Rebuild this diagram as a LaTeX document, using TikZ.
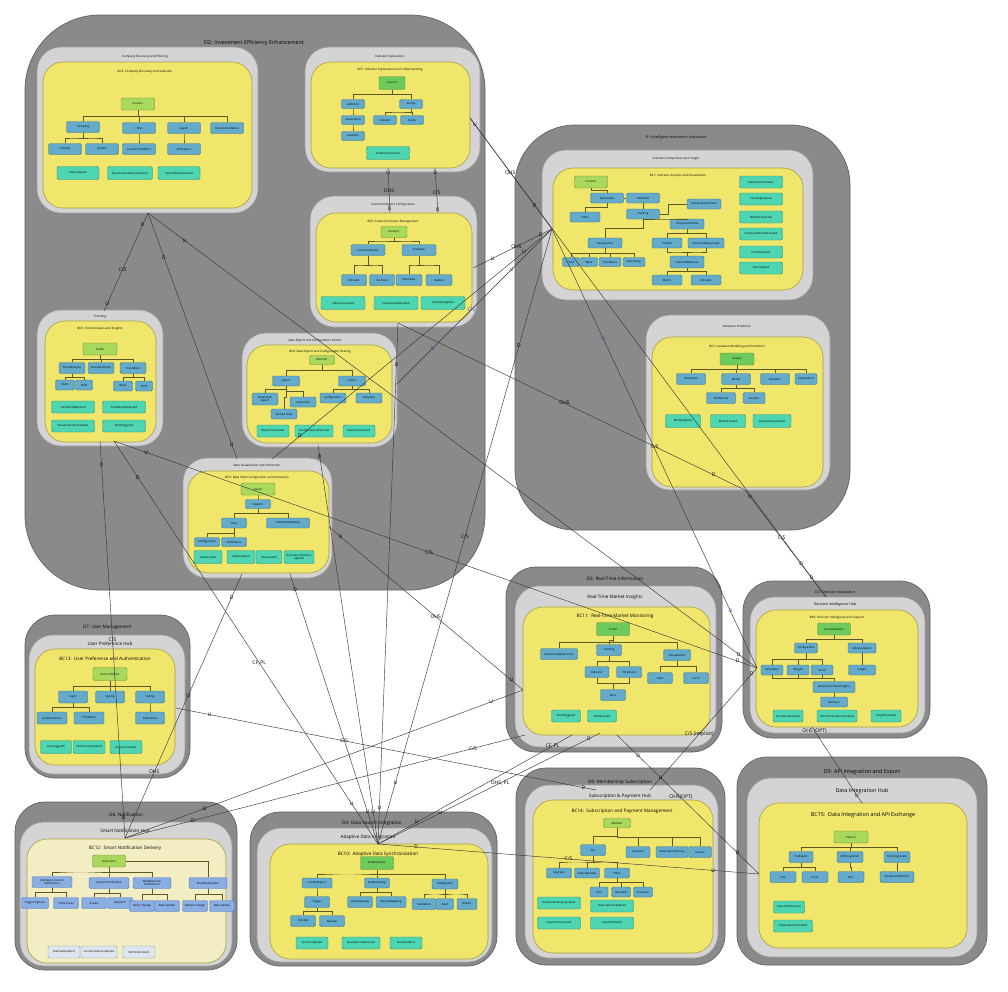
\documentclass[tikz,border=0pt]{standalone}
\usepackage{fontspec}
\setmainfont{Open Sans}
\usetikzlibrary{calc}

\definecolor{domF}{HTML}{8A8A8A}
\definecolor{domB}{HTML}{626262}
\definecolor{subF}{HTML}{D4D4D4}
\definecolor{subB}{HTML}{9C9C9C}
\definecolor{bcF}{HTML}{F0E66C}
\definecolor{bcB}{HTML}{A99F40}
\definecolor{crmF}{HTML}{F3EDC4}
\definecolor{actF}{HTML}{A8D85C}
\definecolor{actG}{HTML}{6CCB5A}
\definecolor{actB}{HTML}{6C8830}
\definecolor{entF}{HTML}{63AACB}
\definecolor{entB}{HTML}{3F6F86}
\definecolor{evtF}{HTML}{4ED6B2}
\definecolor{evtB}{HTML}{2F8A6F}
\definecolor{ntfF}{HTML}{88AEE4}
\definecolor{ntfB}{HTML}{4E72B0}
\definecolor{nevF}{HTML}{DDE6EE}
\definecolor{nevB}{HTML}{8C9AA6}
\definecolor{treeC}{HTML}{5E581E}
\definecolor{relC}{HTML}{383838}
\definecolor{relBlue}{HTML}{3A3AC4}

\tikzset{
  dom/.style={draw=domB, fill=domF, line width=0.7pt, rounded corners=30pt},
  sub/.style={draw=subB, fill=subF, line width=0.6pt, rounded corners=24pt},
  bc/.style={draw=bcB, fill=bcF, line width=0.6pt, rounded corners=20pt},
  box/.style 2 args={rounded corners=1.5pt, line width=0.45pt, minimum width=#1, minimum height=#2,
    inner sep=0.4pt, align=center, font=\fontsize{2.8}{3.1}\selectfont},
  act/.style 2 args={box={#1}{#2}, draw=actB, fill=actF},
  actg/.style 2 args={box={#1}{#2}, draw=actB, fill=actG},
  ent/.style 2 args={box={#1}{#2}, draw=entB, fill=entF},
  evt/.style 2 args={box={#1}{#2}, draw=evtB, fill=evtF},
  ntf/.style 2 args={box={#1}{#2}, draw=ntfB, fill=ntfF},
  nev/.style 2 args={box={#1}{#2}, draw=nevB, fill=nevF},
  tree/.style={draw=treeC, line width=0.45pt},
  rel/.style={draw=relC, line width=0.45pt},
  lbl/.style={font=\fontsize{5}{5}\selectfont, inner sep=0.3pt, text=black},
  lblb/.style={lbl, text=relBlue},
  tbig/.style={font=\fontsize{5.4}{6}\selectfont, inner sep=0pt},
  tmid/.style={font=\fontsize{4.6}{5}\selectfont, inner sep=0pt},
  tsml/.style={font=\fontsize{3.6}{4}\selectfont, inner sep=0pt},
  ttny/.style={font=\fontsize{3}{3.4}\selectfont, inner sep=0pt},
}

\begin{document}
\begin{tikzpicture}[x=1pt,y=1pt,yscale=-1]
\useasboundingbox (0,0) rectangle (1008,991);
\fill[white] (0,0) rectangle (1008,991);

%% ---------------- D2: Investment Efficiency Enhancement
\draw[dom, rounded corners=75pt] (25,15) rectangle (485,590);
\node[tbig] (tD2) at (254,43) {D2: Investment Efficiency Enhancement};

% Company Discovery and Filtering
\draw[sub] (37,47) rectangle (258,213);
\draw[bc] (43,62) rectangle (252,208);
\node[ttny] (tCD) at (145,57) {Company Discovery and Filtering};
\node[ttny] (tBC4) at (145,72) {BC4: Company Discovery and Selection};
\node[act={33}{12}] (b4inv) at (138,104) {Investor};
\node[ent={33}{11}] (b4com) at (83,127) {Company};
\node[ent={33}{11}] (b4fil) at (139,128) {Filter};
\node[ent={33}{11}] (b4sea) at (184,128) {Search};
\node[ent={33}{11}] (b4rec) at (227,128) {Recommendation};
\node[ent={33}{11}] (b4ind) at (65,149) {Industry};
\node[ent={33}{11}] (b4sym) at (102,149) {Symbol};
\node[ent={33}{11}] (b4cus) at (139,149) {Custom Condition};
\node[ent={33}{11}] (b4pre) at (184,149) {Preference};
\node[evt={42}{13}] (b4e1) at (78,173) {FiltersApplied};
\node[evt={45}{13}] (b4e2) at (130,173) {RecommendationsSelected};
\node[evt={42}{13}] (b4e3) at (179,173) {SearchResultSelected};

% Indicator Explanation
\draw[sub] (305,47) rectangle (480,172);
\draw[bc] (311,62) rectangle (470,168);
\node[ttny] (tIE) at (390,57) {Indicator Explanation};
\node[ttny] (tBC7) at (390,70) {BC7: Indicator Explanation and Understanding};
\node[actg={26}{13}] (b7lea) at (392,83) {Learner};
\node[ent={23}{9}] (b7def) at (353,104) {definition};
\node[ent={23}{9}] (b7too) at (411,104) {tooltip};
\node[ent={23}{9}] (b7exp) at (353,120) {explanation};
\node[ent={23}{9}] (b7ind) at (385,120) {indicator};
\node[ent={23}{9}] (b7met) at (412,120) {metric};
\node[ent={23}{9}] (b7exa) at (353,136) {example};
\node[evt={43}{13}] (b7e1) at (388,153) {DefinitionCreated};

% Custom Indicator Configuration
\draw[sub] (310,196) rectangle (477,327);
\draw[bc] (316,213) rectangle (472,322);
\node[ttny] (tCI) at (393,205) {Custom Indicator Configuration};
\node[ttny] (tBC5) at (393,222) {BC5: Custom Indicator Management};
\node[act={26}{11}] (b5inv) at (394,232) {Investor};
\node[ent={34}{11}] (b5ci) at (368,250) {CustomIndicator};
\node[ent={34}{11}] (b5tp) at (419,250) {Template};
\node[ent={25}{11}] (b5in) at (354,280) {Indicator};
\node[ent={25}{11}] (b5fo) at (382,280) {Formula};
\node[ent={26}{11}] (b5pa) at (409,280) {Parameter};
\node[ent={26}{11}] (b5re) at (439,280) {Reload};
\node[evt={44}{13}] (b5e1) at (343,303) {IndicatorCreated};
\node[evt={44}{13}] (b5e2) at (396,303) {ParametersReloaded};
\node[evt={44}{13}] (b5e3) at (443,303) {TemplateApplied};

% Trending
\draw[sub] (37,310) rectangle (163,446);
\draw[bc] (45,321) rectangle (156,442);
\node[ttny] (tTR) at (100,317) {Trending};
\node[ttny] (tBC6) at (100,329) {BC6: Trend Analysis and Insights};
\node[act={34}{12}] (b6tr) at (100,349) {Trader};
\node[ent={26}{11}] (b6ta) at (72,368) {TrendAnalysis};
\node[ent={26}{11}] (b6vs) at (101,368) {VisualSummary};
\node[ent={26}{11}] (b6al) at (133,368) {TrendAlert};
\node[ent={19}{10}] (b6b1) at (65,385) {Burst};
\node[ent={17}{10}] (b6s1) at (84,385) {Shift};
\node[ent={19}{10}] (b6b2) at (123,386) {Burst};
\node[ent={17}{10}] (b6s2) at (144,386) {Shift};
\node[evt={43}{12}] (b6e1) at (73,407) {TrendShiftDetected};
\node[evt={43}{12}] (b6e2) at (124,407) {TrendBurstDetected};
\node[evt={43}{12}] (b6e3) at (73,426) {VisualSummaryCreated};
\node[evt={43}{12}] (b6e4) at (124,426) {AlertTriggered};

% Data Export and Configuration Import
\draw[sub] (242,333) rectangle (397,447);
\draw[bc] (247,345) rectangle (392,443);
\node[ttny] (tDE) at (315,341) {Data Export and Configuration Import};
\node[ttny] (tBC8) at (320,352) {BC8: Data Export and Configuration Sharing};
\node[act={25}{9}] (b8ex) at (322,360) {Exporter};
\node[ent={27}{10}] (b8exp) at (286,381) {export};
\node[ent={27}{10}] (b8imp) at (352,381) {import};
\node[ent={26}{12}] (b8dl) at (265,399) {Download\\export};
\node[ent={26}{10}] (b8sh) at (303,402) {Share Link};
\node[ent={26}{10}] (b8cf) at (333,398) {configuration};
\node[ent={26}{10}] (b8tp) at (369,398) {template};
\node[ent={26}{10}] (b8em) at (284,414) {Embed code};
\node[evt={32}{12}] (b8e1) at (273,431) {ReportGenerated};
\node[evt={38}{12}] (b8e2) at (314,431) {ConfigurationImported};
\node[evt={32}{12}] (b8e3) at (359,431) {ExportCompleted};

% Data Visualization and Interaction
\draw[sub] (183,458) rectangle (332,578);
\draw[bc] (188,471) rectangle (329,573);
\node[ttny] (tDV) at (257,465) {Data Visualization and Interaction};
\node[ttny] (tBC3) at (257,478) {BC3: Data View Configuration and Interaction};
\node[act={34}{12}] (b3vw) at (258,489) {Viewer};
\node[ent={25}{9}] (b3vc) at (258,504) {ViewCtrl};
\node[ent={25}{10}] (b3v) at (234,523) {View};
\node[ent={43}{10}] (b3pd) at (288,523) {PredefinedDisplay};
\node[ent={25}{9}] (b3cf) at (207,542) {Configuration};
\node[ent={25}{9}] (b3pf) at (234,542) {Preference};
\node[evt={28}{13}] (b3e1) at (208,557) {ViewCreated};
\node[evt={28}{13}] (b3e2) at (241,557) {ViewUpdated};
\node[evt={26}{13}] (b3e3) at (269,557) {ViewLoaded};
\node[evt={30}{13}] (b3e4) at (299,557) {Recommendations\\Applied};

%% ---------------- D1 Intelligent Investment Assistance
\draw[dom, rounded corners=60pt] (515,125) rectangle (850,530);
\node[tsml] (tD1) at (676,138) {D1 Intelligent Investment Assistance};

% Indicator Comparison and Insight
\draw[sub] (542,150) rectangle (813,300);
\draw[bc] (553,168) rectangle (803,290);
\node[ttny] (tICI) at (676,159) {Indicator Comparison and Insight};
\node[ttny] (tBC1) at (678,176) {BC1: Indicator Analysis and Visualization};
\node[act={33}{12}] (b1inv) at (591,182) {Investor};
\node[ent={33}{10}] (b1db) at (607,198) {Dashboard};
\node[ent={33}{10}] (b1wl) at (643,198) {Watchlist};
\node[ent={30}{10}] (b1fi) at (585,217) {Filter};
\node[ent={33}{10}] (b1tr) at (643,214) {Tracking};
\node[ent={34}{10}] (b1ib) at (704,204) {IndustryBenchmark};
\node[ent={34}{10}] (b1cp) at (687,224) {CompositeProfile};
\node[ent={34}{10}] (b1vi) at (605,243) {Visualization};
\node[ent={30}{10}] (b1pr) at (667,243) {Profiles};
\node[ent={36}{10}] (b1fs) at (706,243) {FinancialMeasureSet};
\node[ent={17}{9}] (b1ch) at (571,262) {Chart};
\node[ent={17}{9}] (b1tb) at (589,262) {Table};
\node[ent={22}{9}] (b1td) at (610,262) {TrendData};
\node[ent={22}{9}] (b1pg) at (634,262) {PeerGroup};
\node[ent={34}{12}] (b1fm) at (687,262) {FinancialMeasure};
\node[ent={30}{10}] (b1mt) at (667,280) {Metric};
\node[ent={30}{10}] (b1in) at (706,280) {Indicator};
\node[evt={43}{12}] (b1e1) at (761,182) {DashboardCreated};
\node[evt={43}{12}] (b1e2) at (761,199) {TrackingCreated};
\node[evt={43}{12}] (b1e3) at (761,217) {WatchlistCreated};
\node[evt={43}{12}] (b1e4) at (761,234) {CompositeProfileCreated};
\node[evt={43}{12}] (b1e5) at (761,252) {ProfileCreated};
\node[evt={43}{12}] (b1e6) at (761,268) {FilterApplied};

% Valuation Prediction
\draw[sub] (646,315) rectangle (830,490);
\draw[bc] (652,337) rectangle (823,487);
\node[ttny] (tVP) at (737,326) {Valuation Prediction};
\node[ttny] (tBC2) at (737,347) {BC2: Valuation Modeling and Prediction};
\node[actg={34}{12}] (b2an) at (737,359) {Analyst};
\node[ent={29}{11}] (b2pa) at (691,379) {Parameter};
\node[ent={29}{11}] (b2mo) at (736,379) {Model};
\node[ent={29}{11}] (b2va) at (775,379) {Valuation};
\node[ent={22}{11}] (b2ex) at (806,379) {Explanation};
\node[ent={29}{11}] (b2pd) at (721,398) {Predefined};
\node[ent={22}{11}] (b2cu) at (754,398) {Custom};
\node[evt={35}{13}] (b2e1) at (683,421) {ModelApplied};
\node[evt={35}{13}] (b2e2) at (728,421) {ModelCreated};
\node[evt={38}{13}] (b2e3) at (772,421) {ValuationGenerated};

%% ---------------- D7: User Management
\draw[dom] (25,615) rectangle (190,778);
\draw[sub] (29,635) rectangle (185,774);
\draw[bc] (35,649) rectangle (175,765);
\node[tmid] (tD7) at (107,627) {D7: User Management};
\node[tmid] (tUPH) at (110,644) {User Preference Hub};
\node[tmid] (tBC13) at (105,659) {BC13:\, User Preference and Authentication};
\node[act={34}{13}] (b13ah) at (110,674) {AccountHolder};
\node[ent={29}{12}] (b13lg) at (73,697) {Login};
\node[ent={29}{12}] (b13su) at (110,697) {SignUp};
\node[ent={29}{12}] (b13st) at (150,697) {Setting};
\node[ent={30}{12}] (b13au) at (52,718) {Authentication};
\node[ent={30}{12}] (b13tp) at (89,718) {ThirdParty};
\node[ent={29}{12}] (b13pf) at (150,718) {Preference};
\node[evt={31}{13}] (b13e1) at (56,747) {UserLoggedIn};
\node[evt={32}{13}] (b13e2) at (89,747) {PreferenceUpdated};
\node[evt={32}{13}] (b13e3) at (126,747) {AccountCreated};

%% ---------------- D6: Notification
\draw[dom] (15,802) rectangle (237,970);
\draw[sub] (20,822) rectangle (232,966);
\draw[draw=bcB, fill=crmF, line width=0.6pt, rounded corners=20pt] (27,839) rectangle (226,963);
\node[tmid] (tD6) at (126,815) {D6: Notification};
\node[tmid] (tSNH) at (125,831) {Smart Notification Hub};
\node[tmid] (tBC12) at (125,848) {BC12:\, Smart Notification Delivery};
\node[act={33}{12}] (b12sb) at (109,861) {Subscriber};
\node[ntf={40}{11}] (b12cc) at (52,882) {Configure Custom\\Notification};
\node[ntf={40}{11}] (b12sn) at (109,883) {System Notification};
\node[ntf={38}{11}] (b12wp) at (152,883) {WebApp Push\\Notification};
\node[ntf={38}{11}] (b12em) at (208,883) {EmailNotification};
\node[ntf={27}{11}] (b12to) at (35,903) {Trigger Options};
\node[ntf={25}{11}] (b12pr) at (66,903) {Preferences};
\node[ntf={25}{11}] (b12cr) at (94,903) {Create};
\node[ntf={25}{11}] (b12di) at (120,903) {Dispatch};
\node[ntf={25}{11}] (b12vc) at (142,906) {Value Change};
\node[ntf={25}{11}] (b12du) at (167,906) {Data Update};
\node[ntf={25}{11}] (b12mc) at (195,906) {Market Change};
\node[ntf={25}{11}] (b12dv) at (222,906) {Data Update};
\node[nev={32}{12}] (b12e1) at (64,952) {MethodUpdated};
\node[nev={36}{12}] (b12e2) at (99,952) {CustomizationUpdated};
\node[nev={32}{12}] (b12e3) at (139,952) {NotificationSent};

%% ---------------- D4: Data Source Integration
\draw[dom] (250,812) rectangle (497,966);
\draw[sub] (257,828) rectangle (492,962);
\draw[bc] (270,844) rectangle (488,959);
\node[tmid] (tD4) at (372,823) {D4: Data Source Integration};
\node[tmid] (tADI) at (368,837) {Adaptive Data Integration};
\node[tmid] (tBC10) at (378,854) {BC10:\, Adaptive Data Synchronization};
\node[actg={33}{13}] (b10de) at (377,863) {DataEngineer};
\node[ent={30}{10}] (b10ce) at (317,883) {CreateEngine};
\node[ent={25}{10}] (b10dc) at (377,883) {DataCleaning};
\node[ent={26}{10}] (b10dq) at (445,884) {DataQuality};
\node[ent={25}{11}] (b10tg) at (317,902) {Trigger};
\node[ent={25}{11}] (b10am) at (360,902) {AutoMapping};
\node[ent={30}{11}] (b10mm) at (391,902) {ManualMapping};
\node[ent={24}{11}] (b10va) at (424,904) {Validation};
\node[ent={17}{11}] (b10al) at (445,904) {Alert};
\node[ent={20}{11}] (b10rp) at (467,904) {Report};
\node[ent={25}{11}] (b10cj) at (303,921) {CronJob};
\node[ent={25}{11}] (b10mn) at (332,921) {Manual};
\node[evt={32}{12}] (b10e1) at (312,943) {SyncCompleted};
\node[evt={38}{12}] (b10e2) at (361,943) {QualityIssueDetected};
\node[evt={32}{12}] (b10e3) at (406,943) {DataUpdated};

%% ---------------- D5: Real-Time Information
\draw[dom] (506,567) rectangle (722,752);
\draw[sub] (515,586) rectangle (716,747);
\draw[bc] (523,607) rectangle (710,735);
\node[tmid] (tD5) at (615,579) {D5: Real-Time Information};
\node[tmid] (tRMI) at (615,597) {Real-Time Market Insights};
\node[tmid] (tBC11) at (615,616) {BC11:\, Real-Time Market Monitoring};
\node[actg={33}{13}] (b11tr) at (613,629) {Trader};
\node[ent={37}{11}] (b11rp) at (559,654) {Real-time Market Price};
\node[ent={25}{11}] (b11tk) at (609,650) {Tracking};
\node[ent={27}{11}] (b11vi) at (677,655) {Visualization};
\node[ent={24}{11}] (b11in) at (597,672) {Indicator};
\node[ent={25}{11}] (b11th) at (629,672) {Threshold};
\node[ent={25}{11}] (b11ch) at (660,678) {chart};
\node[ent={25}{11}] (b11td) at (696,678) {trend};
\node[ent={25}{11}] (b11al) at (613,695) {Alert};
\node[evt={29}{12}] (b11e1) at (566,716) {AlertTriggered};
\node[evt={29}{12}] (b11e2) at (602,716) {AlertCreated};

%% ---------------- D3: Decision Assistance
\draw[dom] (743,581) rectangle (930,738);
\draw[sub] (750,597) rectangle (925,733);
\draw[bc] (756,610) rectangle (918,727);
\node[tsml] (tD3) at (835,592) {D3: Decision Assistance};
\node[tsml] (tDIH) at (835,605) {Decision Intelligence Hub};
\node[ttny] (tBC9) at (837,618) {BC9: Decision Intelligence and Support};
\node[actg={33}{12}] (b9dm) at (834,629) {DecisionMaker};
\node[ent={23}{10}] (b9cf) at (806,648) {Configurable};
\node[ent={28}{10}] (b9ai) at (862,648) {AIConsultation};
\node[ent={22}{10}] (b9pa) at (772,670) {Parameter};
\node[ent={22}{10}] (b9we) at (798,670) {Weight};
\node[ent={22}{10}] (b9sc) at (822,670) {Score};
\node[ent={27}{10}] (b9in) at (862,670) {Insight};
\node[ent={42}{11}] (b9re) at (834,687) {RecommendationEngine};
\node[ent={27}{10}] (b9de) at (834,702) {Decision};
\node[evt={30}{12}] (b9e1) at (788,716) {ScoreRecalculated};
\node[evt={40}{12}] (b9e2) at (837,716) {RecommendationCreated};
\node[evt={30}{12}] (b9e3) at (886,716) {InsightProvided};

%% ---------------- D8: Membership Subscription
\draw[dom] (516,768) rectangle (725,965);
\draw[sub] (525,785) rectangle (718,958);
\draw[bc] (533,800) rectangle (713,953);
\node[tmid] (tD8) at (620,782) {D8: Membership Subscription};
\node[tmid] (tSPH) at (620,796) {Subscription \& Payment Hub};
\node[tmid] (tBC14) at (622,811) {BC14:\, Subscription and Payment Management};
\node[act={27}{9}] (b14mb) at (617,823) {Member};
\node[ent={25}{11}] (b14ti) at (593,850) {Tier};
\node[ent={24}{11}] (b14pa) at (638,852) {Payment};
\node[ent={32}{11}] (b14sh) at (672,852) {SubscriptionHistory};
\node[ent={23}{11}] (b14in) at (700,852) {Invoice};
\node[ent={25}{10}] (b14up) at (559,873) {Upgrade};
\node[ent={25}{10}] (b14ar) at (587,873) {Auto-Renewal};
\node[ent={25}{10}] (b14pl) at (617,873) {Plans};
\node[ent={18}{10}] (b14fr) at (599,892) {Free};
\node[ent={19}{10}] (b14st) at (621,892) {Standard};
\node[ent={19}{10}] (b14pm) at (643,892) {Premium};
\node[evt={43}{12}] (b14e1) at (559,903) {RenewalSettingsUpdated};
\node[evt={43}{12}] (b14e2) at (612,906) {SubscriptionUpdated};
\node[evt={43}{12}] (b14e3) at (559,923) {PaymentProcessed};
\node[evt={43}{12}] (b14e4) at (612,923) {PaymentFailed};

%% ---------------- D9: API Integration and Export
\draw[dom] (737,757) rectangle (987,965);
\draw[sub] (747,778) rectangle (977,957);
\draw[bc] (759,803) rectangle (967,948);
\node[tbig] (tD9) at (862,772) {D9: API Integration and Export};
\node[tbig] (tDIHb) at (862,791) {Data Integration Hub};
\node[tbig] (tBC15) at (863,815) {BC15:\, Data Integration and API Exchange};
\node[act={34}{12}] (b15pt) at (851,837) {Partner};
\node[ent={24}{11}] (b15fe) at (801,857) {FileExport};
\node[ent={26}{11}] (b15ai) at (850,857) {APIIntegration};
\node[ent={26}{11}] (b15ti) at (897,857) {ToolIntegration};
\node[ent={26}{11}] (b15cs) at (783,877) {CSV};
\node[ent={26}{11}] (b15ex) at (815,877) {Excel};
\node[ent={26}{11}] (b15dc) at (851,877) {Doc};
\node[ent={34}{11}] (b15ap) at (897,877) {AnalyticsPlatforms};
\node[evt={31}{12}] (b15e1) at (789,907) {ExportFileCreated};
\node[evt={39}{12}] (b15e2) at (793,926) {IntegrationCompleted};

%% ---------------- tree connectors inside the contexts
\foreach \p/\c in {b4inv/b4com, b4inv/b4fil, b4inv/b4sea, b4inv/b4rec, b4com/b4ind, b4com/b4sym,
    b4fil/b4cus, b4sea/b4pre,
    b7lea/b7def, b7lea/b7too, b7def/b7exp, b7exp/b7exa, b7too/b7ind, b7too/b7met,
    b5inv/b5ci, b5inv/b5tp, b5ci/b5in, b5ci/b5fo, b5tp/b5pa, b5tp/b5re,
    b6tr/b6ta, b6tr/b6vs, b6tr/b6al, b6ta/b6b1, b6ta/b6s1, b6al/b6b2, b6al/b6s2,
    b8ex/b8exp, b8ex/b8imp, b8exp/b8dl, b8exp/b8sh, b8exp/b8em, b8imp/b8cf, b8imp/b8tp,
    b3vw/b3vc, b3vc/b3v, b3vc/b3pd, b3v/b3cf, b3v/b3pf,
    b1inv/b1db, b1db/b1fi, b1wl/b1tr, b1tr/b1vi, b1tr/b1cp, b1cp/b1pr, b1cp/b1fs, b1pr/b1fm,
    b1fs/b1fm, b1fm/b1mt, b1fm/b1in, b1vi/b1ch, b1vi/b1tb, b1vi/b1td, b1vi/b1pg,
    b2an/b2pa, b2an/b2mo, b2an/b2va, b2an/b2ex, b2mo/b2pd, b2mo/b2cu,
    b13ah/b13lg, b13ah/b13su, b13ah/b13st, b13lg/b13au, b13lg/b13tp, b13st/b13pf,
    b12sb/b12cc, b12sb/b12sn, b12sb/b12wp, b12cc/b12to, b12cc/b12pr, b12sn/b12cr, b12sn/b12di,
    b12wp/b12vc, b12wp/b12du, b12em/b12mc, b12em/b12dv,
    b10de/b10ce, b10de/b10dc, b10de/b10dq, b10ce/b10tg, b10tg/b10cj, b10tg/b10mn,
    b10dc/b10am, b10dc/b10mm, b10dq/b10va, b10dq/b10al, b10dq/b10rp,
    b11tr/b11rp, b11tr/b11tk, b11tr/b11vi, b11tk/b11in, b11tk/b11th, b11in/b11al, b11th/b11al,
    b11vi/b11ch, b11vi/b11td,
    b9dm/b9cf, b9dm/b9ai, b9cf/b9pa, b9cf/b9we, b9cf/b9sc, b9ai/b9in, b9pa/b9re, b9we/b9re,
    b9sc/b9re, b9re/b9de,
    b14mb/b14ti, b14mb/b14pa, b14mb/b14sh, b14mb/b14in, b14ti/b14up, b14ti/b14ar, b14ti/b14pl,
    b14pl/b14fr, b14pl/b14st, b14pl/b14pm,
    b15pt/b15fe, b15pt/b15ai, b15pt/b15ti, b15fe/b15cs, b15fe/b15ex, b15ai/b15dc, b15ti/b15ap}
  \draw[tree] (\p.south) |- ($(\p.south)!.5!(\c.north)$) -| (\c.north);
\draw[tree] (b1db.east) -- (b1wl.west);
\draw[tree] (b1tr.east) -- ++(8,0) |- (b1ib.west);
\draw[tree] (b12sb.east) -| (b12em.north);

%% ---------------- context map relations
\coordinate (cdB) at (148,213);
\coordinate (ieR) at (470,118);
\coordinate (ieB1) at (388,168);
\coordinate (ieB2) at (435,168);
\coordinate (ciT1) at (390,213);
\coordinate (ciT2) at (438,213);
\coordinate (ciR) at (473,268);
\coordinate (ciB) at (398,323);
\coordinate (trT) at (104,311);
\coordinate (trB) at (100,441);
\coordinate (trB2) at (114,441);
\coordinate (deR) at (397,384);
\coordinate (deB) at (318,445);
\coordinate (dvT) at (237,459);
\coordinate (dvT2) at (272,459);
\coordinate (dvR) at (329,527);
\coordinate (dvB) at (242,574);
\coordinate (dvB2) at (290,574);
\coordinate (d1L) at (552,229);
\coordinate (vpB) at (745,490);
\coordinate (d3L) at (757,668);
\coordinate (d3T) at (826,597);
\coordinate (d3B) at (812,727);
\coordinate (d5L) at (523,690);
\coordinate (d5BL) at (525,735);
\coordinate (d5B) at (572,735);
\coordinate (d5B2) at (600,733);
\coordinate (d5B3) at (617,735);
\coordinate (d6T) at (125,838);
\coordinate (d4T) at (378,844);
\coordinate (d7R) at (176,708);
\coordinate (d8T) at (596,790);
\coordinate (d8T2) at (650,790);
\coordinate (d9L) at (759,874);
\coordinate (d9T) at (862,803);

\draw[rel] (cdB) -- (trT) node[lbl,pos=.12]{D} node[lbl,pos=.58]{C/S} node[lbl,pos=.93]{U};
\draw[rel] (cdB) -- (dvT) node[lbl,pos=.18]{D} node[lbl,pos=.94]{U};
\draw[rel] (cdB) -- (d3L) node[lbl,pos=.06]{U} node[lbl,pos=.97]{D};
\draw[rel] (ieB1) -- (ciT1) node[lbl,pos=.1]{U} node[lbl,pos=.5]{OHS} node[lbl,pos=.9]{D};
\draw[rel] (ieB2) -- (ciT2) node[lbl,pos=.1]{D} node[lbl,pos=.55]{C/S} node[lbl,pos=.92]{U};
\draw[rel] (ieR) -- (d1L) node[lbl,pos=.06]{U} node[lbl,pos=.49]{OHS} node[lbl,pos=.79]{D};
\draw[rel] (ieR) -- (d3T) node[lbl,pos=.93]{D};
\draw[rel] (ciR) -- (d1L) node[lbl,pos=.25]{U} node[lbl,pos=.55]{OHS} node[lbl,pos=.86]{D};
\draw[rel] (d1L) -- (deR) node[lblb,pos=.26]{U} node[lblb,pos=.52]{C/S} node[lblb,pos=.77]{D};
\draw[rel] (d1L) -- (dvT2) node[lbl,pos=.1]{U} node[lbl,pos=.9]{D};
\draw[rel] (d1L) -- (d4T) node[lbl,pos=.19]{D} node[lbl,pos=.5]{C/S} node[lbl,pos=.9]{U};
\draw[rel] (d1L) -- (d3L) node[lblb,pos=.25]{U} node[lblb,pos=.87]{D};
\draw[rel] (ciB) -- (vpB) node[lbl,pos=.48]{OHS} node[lbl,pos=.74]{C/S} node[lbl,pos=.91]{D};
\draw[rel] (vpB) -- (d3T) node[lbl,pos=.06]{U} node[lbl,pos=.45]{C/S} node[lbl,pos=.82]{D};
\draw[rel] (ciB) -- (d4T) node[lbl,pos=.08]{D} node[lbl,pos=.93]{U};
\draw[rel] (trB) -- (d6T) node[lbl,pos=.06]{U} node[lbl,pos=.5]{C/S} node[lbl,pos=.95]{D};
\draw[rel] (trB2) -- (d4T) node[lbl,pos=.09]{D} node[lbl,pos=.55]{CF, PL} node[lbl,pos=.9]{U};
\draw[rel] (trB2) -- (d3L) node[lbl,pos=.05]{U} node[lbl,pos=.49]{C/S} node[lbl,pos=.97]{D};
\draw[rel] (dvB) -- (d6T) node[lbl,pos=.09]{D} node[lbl,pos=.46]{U} node[lbl,pos=.75]{OHS};
\draw[rel] (dvB2) -- (d4T) node[lbl,pos=.06]{D} node[lbl,pos=.88]{U};
\draw[rel] (dvR) -- (d5L) node[lbl,pos=.06]{D} node[lbl,pos=.55]{OHS} node[lbl,pos=.94]{U};
\draw[rel] (deB) -- (d4T) node[lbl,pos=.03]{D} node[lbl,pos=.92]{U};
\draw[rel] (d7R) -- (d8T) node[lbl,pos=.08]{U} node[lbl,pos=.4]{C/S} node[lbl,pos=.97]{D};
\draw[rel] (d6T) -- (d5L) node[lbl,pos=.2]{D} node[lbl,pos=.92]{U};
\draw[rel] (d6T) -- (d5BL) node[lbl,pos=.17]{D} node[lbl,pos=.87]{C/S};
\draw[rel] (d5B) -- (d4T) node[lbl,pos=.1]{CF, PL} node[lbl,pos=.8]{U};
\draw[rel] (d5B2) -- (d4T) node[lbl,pos=.05]{D} node[lbl,pos=.45]{OHS, PL} node[lbl,pos=.72]{U};
\draw[rel] (d4T) -- (d9L) node[lbl,pos=.1]{D} node[lbl,pos=.5]{C/S} node[lbl,pos=.88]{U};
\draw[rel] (d5B3) -- (d9L) node[lbl,pos=.15]{D} node[lbl,pos=.45]{OHS(OPT)} node[lbl,pos=.85]{D};
\draw[rel] (d8T2) -- (d3L) node[lbl,pos=.1]{U} node[lbl,pos=.46]{C/S (implicit)} node[lbl,pos=.95]{D};
\draw[rel] (d3B) -- (d9T) node[lbl,pos=.05]{OHS (OPT)} node[lbl,pos=.9]{U};

\end{tikzpicture}
\end{document}
